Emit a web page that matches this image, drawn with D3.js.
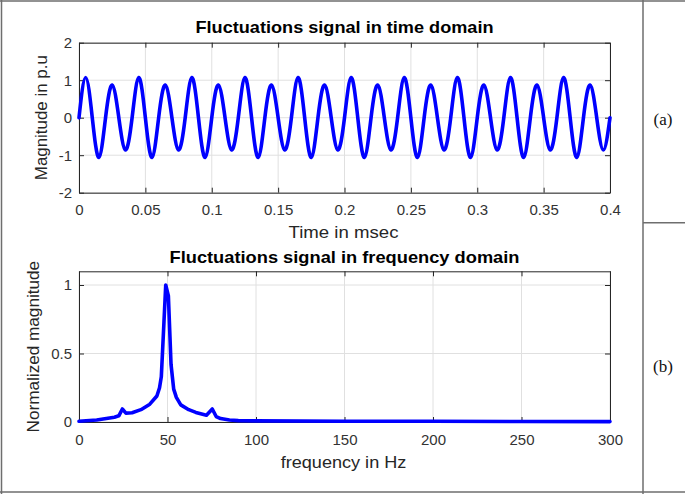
<!DOCTYPE html>
<html>
<head>
<meta charset="utf-8">
<script src="https://cdn.jsdelivr.net/npm/d3@7"></script>
<style>
  body { margin: 0; background: #fff; }
  svg { display: block; font-family: "Liberation Sans", Arial, Helvetica, sans-serif; }
  .grid line { stroke: #e0e0e0; stroke-width: 1; }
  .axis path, .axis line { stroke: #262626; stroke-width: 1; }
  .axis text { fill: #333; font-size: 15px; font-family: "Liberation Sans", Arial, sans-serif; }
  .title { font-weight: bold; font-size: 16.5px; fill: #000; }
  .label { font-size: 16.5px; fill: #262626; }
  .frame { stroke: #6e6e6e; stroke-width: 1.5; }
  .tag { font-family: "Liberation Serif", "Times New Roman", serif; font-size: 17px; fill: #111; }
</style>
</head>
<body>
<svg id="fig" width="685" height="494"></svg>
<script>
// Signal temporel (un point par quart de période)
const timeSec = [0,0.005,0.01,0.015,0.02,0.025,0.03,0.035,0.04,0.045,0.05,0.055,0.06,0.065,0.07,0.075,
  0.08,0.085,0.09,0.095,0.1,0.105,0.11,0.115,0.12,0.125,0.13,0.135,0.14,0.145,0.15,0.155,0.16,0.165,
  0.17,0.175,0.18,0.185,0.19,0.195,0.2,0.205,0.21,0.215,0.22,0.225,0.23,0.235,0.24,0.245,0.25,0.255,
  0.26,0.265,0.27,0.275,0.28,0.285,0.29,0.295,0.3,0.305,0.31,0.315,0.32,0.325,0.33,0.335,0.34,0.345,
  0.35,0.355,0.36,0.365,0.37,0.375,0.38,0.385,0.39,0.395,0.4];
const timeMag = [0,1.07,0,-1.06,0,0.87,0,-0.86, 0,1.07,0,-1.06,0,0.87,0,-0.86,
  0,1.07,0,-1.06,0,0.87,0,-0.86, 0,1.07,0,-1.06,0,0.87,0,-0.86,
  0,1.07,0,-1.06,0,0.87,0,-0.86, 0,1.07,0,-1.06,0,0.87,0,-0.86,
  0,1.07,0,-1.06,0,0.87,0,-0.86, 0,1.07,0,-1.06,0,0.87,0,-0.86,
  0,1.07,0,-1.06,0,0.87,0,-0.86, 0,1.07,0,-1.06,0,0.87,0,-0.86, 0];
const timeTicks = [0,0.05,0.1,0.15,0.2,0.25,0.3,0.35,0.4];
const timeTickLabels = ["0","0.05","0.1","0.15","0.2","0.25","0.3","0.35","0.4"];
const magTicks = [-2,-1,0,1,2];
const magTickLabels = ["-2","-1","0","1","2"];

// Spectre normalisé
const freqHz = [0,10,20,22.5,24.5,26.5,30,35,40,44,45.5,46.5,48,49,50.5,52,53.5,55,57.5,62,66,72,75.3,
  77.5,80,85,90,100,150,200,250,300];
const specMag = [0.005,0.015,0.035,0.045,0.095,0.065,0.068,0.09,0.13,0.19,0.25,0.33,0.73,1.0,0.92,0.42,
  0.24,0.18,0.125,0.09,0.07,0.05,0.095,0.04,0.025,0.015,0.01,0.008,0.006,0.005,0.004,0.003];
const freqTicks = [0,50,100,150,200,250,300];
const freqTickLabels = ["0","50","100","150","200","250","300"];
const normTicks = [0,0.5,1];
const normTickLabels = ["0","0.5","1"];

const svg = d3.select("#fig");

// Cadre du tableau
svg.append("line").attr("class", "frame").attr("x1", 0).attr("x2", 685).attr("y1", 1).attr("y2", 1);
svg.append("line").attr("class", "frame").attr("x1", 1.5).attr("x2", 1.5).attr("y1", 0).attr("y2", 494);
svg.append("line").attr("class", "frame").attr("x1", 0).attr("x2", 685).attr("y1", 492).attr("y2", 492);
svg.append("line").attr("class", "frame").attr("x1", 643).attr("x2", 643).attr("y1", 0).attr("y2", 494);
svg.append("line").attr("class", "frame").attr("x1", 643).attr("x2", 685).attr("y1", 222.7).attr("y2", 222.7);
svg.append("text").attr("class", "tag").attr("x", 663).attr("y", 119).attr("text-anchor", "middle")
  .attr("dominant-baseline", "central").text("(a)");
svg.append("text").attr("class", "tag").attr("x", 663).attr("y", 366).attr("text-anchor", "middle")
  .attr("dominant-baseline", "central").text("(b)");

function drawPanel(p) {
  const x = d3.scaleLinear().domain(p.xDomain).range([79, 610]);
  const y = d3.scaleLinear().domain(p.yDomain).range([p.bottom, p.top]);
  const g = svg.append("g");

  // grille
  const grid = g.append("g").attr("class", "grid");
  grid.selectAll(".gx").data(p.xTicks).enter().append("line")
    .attr("x1", d => x(d)).attr("x2", d => x(d)).attr("y1", p.top).attr("y2", p.bottom);
  grid.selectAll(".gy").data(p.yTicks).enter().append("line")
    .attr("x1", 79).attr("x2", 610).attr("y1", d => y(d)).attr("y2", d => y(d));

  // axes (ticks vers l'intérieur, style MATLAB)
  g.append("g").attr("class", "axis").attr("transform", `translate(0,${p.bottom})`)
    .call(d3.axisBottom(x).tickValues(p.xTicks).tickSize(-5).tickSizeOuter(0).tickPadding(12)
      .tickFormat((d, i) => p.xLabels[i]));
  g.append("g").attr("class", "axis").attr("transform", `translate(0,${p.top})`)
    .call(d3.axisTop(x).tickValues(p.xTicks).tickSize(-5).tickSizeOuter(0).tickFormat(""));
  g.append("g").attr("class", "axis").attr("transform", "translate(79,0)")
    .call(d3.axisLeft(y).tickValues(p.yTicks).tickSize(-5).tickSizeOuter(0).tickPadding(7)
      .tickFormat((d, i) => p.yLabels[i]));
  g.append("g").attr("class", "axis").attr("transform", "translate(610,0)")
    .call(d3.axisRight(y).tickValues(p.yTicks).tickSize(-5).tickSizeOuter(0).tickFormat(""));

  // courbe
  const line = d3.line().x(d => x(d[0])).y(d => y(d[1])).curve(p.curve);
  g.append("path")
    .datum(d3.zip(p.xs, p.ys))
    .attr("d", line)
    .attr("fill", "none")
    .attr("stroke", "#0000ff")
    .attr("stroke-width", 3.6)
    .attr("stroke-linejoin", "round")
    .attr("stroke-linecap", "round");

  // textes
  g.append("text").attr("class", "title").attr("x", 344.5).attr("y", p.titleY)
    .attr("text-anchor", "middle").attr("textLength", p.titleW).attr("lengthAdjust", "spacingAndGlyphs")
    .text(p.title);
  g.append("text").attr("class", "label").attr("x", 343.5).attr("y", p.xLabelY)
    .attr("text-anchor", "middle").attr("textLength", p.xLabelW).attr("lengthAdjust", "spacingAndGlyphs")
    .text(p.xLabel);
  g.append("text").attr("class", "label")
    .attr("transform", `translate(${p.yLabelX},${(p.top + p.bottom) / 2}) rotate(-90)`)
    .attr("text-anchor", "middle").attr("textLength", p.yLabelW).attr("lengthAdjust", "spacingAndGlyphs")
    .text(p.yLabel);
}

drawPanel({
  xDomain: [0, 0.4], yDomain: [-2, 2], top: 42.7, bottom: 192.7,
  xTicks: timeTicks, xLabels: timeTickLabels, yTicks: magTicks, yLabels: magTickLabels,
  xs: timeSec, ys: timeMag, curve: d3.curveNatural,
  title: "Fluctuations signal in time domain", titleY: 33.3, titleW: 298,
  xLabel: "Time in msec", xLabelY: 238.3, xLabelW: 110,
  yLabel: "Magnitude in p.u", yLabelX: 47, yLabelW: 125
});

drawPanel({
  xDomain: [0, 300], yDomain: [0, 1.1], top: 271.3, bottom: 422,
  xTicks: freqTicks, xLabels: freqTickLabels, yTicks: normTicks, yLabels: normTickLabels,
  xs: freqHz, ys: specMag, curve: d3.curveLinear,
  title: "Fluctuations signal in frequency domain", titleY: 262.7, titleW: 350,
  xLabel: "frequency in Hz", xLabelY: 468.3, xLabelW: 125.7,
  yLabel: "Normalized magnitude", yLabelX: 39, yLabelW: 171.6
});
</script>
</body>
</html>
